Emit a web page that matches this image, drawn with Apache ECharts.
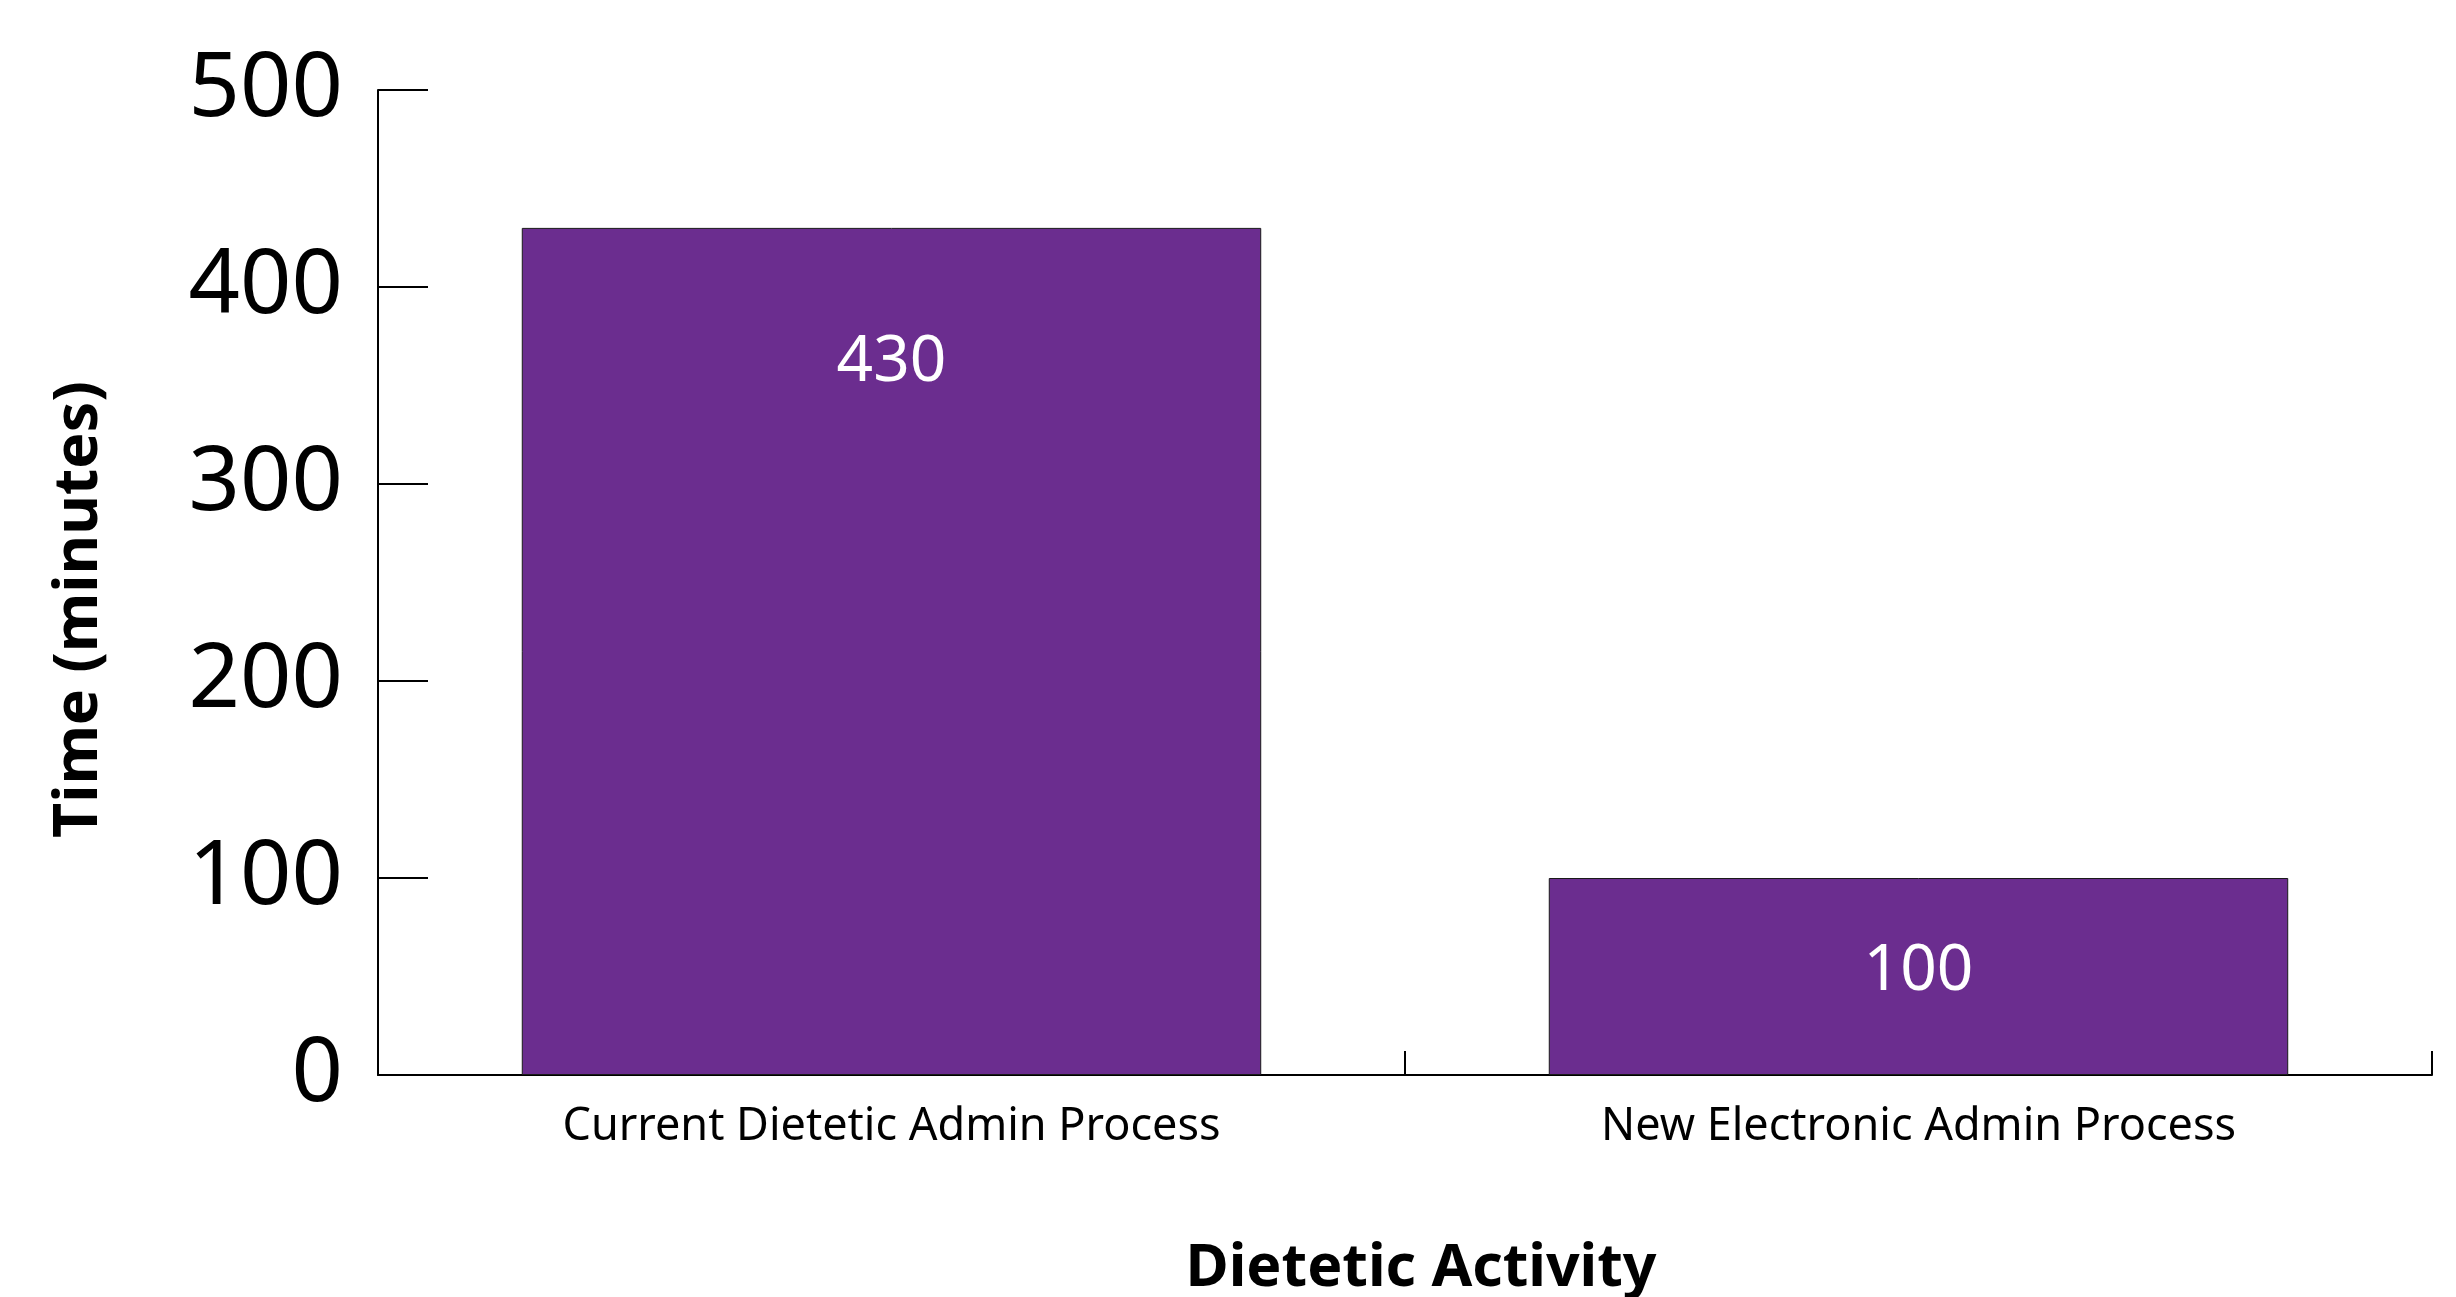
<!DOCTYPE html>
<html>
<head>
<meta charset="utf-8">
<script src="https://cdn.jsdelivr.net/npm/echarts@6/dist/echarts.min.js"></script>
<style>
  html, body { margin: 0; padding: 0; background: #ffffff; }
  #chart { width: 2456px; height: 1297px; }
</style>
</head>
<body>
<div id="chart"></div>
<script>
// Time spent per dietetic activity (minutes)
const categories = ['Current Dietetic Admin Process', 'New Electronic Admin Process'];
const minutes = [430, 100];
const yTicks = [0, 100, 200, 300, 400, 500];

// how far each value label sits below its bar top (px)
const labelDrop = [103, 62];

const FONT = '"Noto Sans", "Open Sans", sans-serif';
const BAR = '#6b2d8f';

const chart = echarts.init(document.getElementById('chart'), null, { renderer: 'canvas' });

chart.setOption({
  backgroundColor: '#ffffff',
  animation: false,
  grid: {
    left: 378, right: 24, top: 90, bottom: 222,
    containLabel: false, outerBoundsMode: 'none'
  },
  xAxis: {
    type: 'category',
    data: categories,
    boundaryGap: true,
    name: 'Dietetic Activity',
    nameLocation: 'middle',
    nameGap: 165,
    nameTextStyle: {
      fontFamily: FONT, fontSize: 59, fontWeight: 'bold', color: '#000',
      padding: [0, 0, 0, 32]
    },
    axisLine: { show: true, lineStyle: { color: '#000', width: 2 } },
    axisTick: { show: true, inside: true, length: 24, lineStyle: { color: '#000', width: 2 } },
    axisLabel: { fontFamily: FONT, fontSize: 45, color: '#000', margin: 30 },
    splitLine: { show: false }
  },
  yAxis: {
    type: 'value',
    min: yTicks[0],
    max: yTicks[yTicks.length - 1],
    interval: yTicks[1] - yTicks[0],
    name: 'Time (minutes)',
    nameLocation: 'middle',
    nameGap: 268,
    nameTextStyle: {
      fontFamily: FONT, fontSize: 61, fontWeight: 'bold', color: '#000',
      padding: [0, 54, 0, 0]
    },
    axisLine: { show: true, lineStyle: { color: '#000', width: 2 } },
    axisTick: { show: true, inside: true, length: 50, lineStyle: { color: '#000', width: 2 } },
    axisLabel: { fontFamily: FONT, fontSize: 90, color: '#000', margin: 35 },
    splitLine: { show: false }
  },
  series: [{
    type: 'bar',
    barWidth: '72%',
    data: minutes.map((v, i) => ({
      value: v,
      label: { distance: labelDrop[i] }
    })),
    itemStyle: { color: BAR, borderColor: '#1a1a1a', borderWidth: 1 },
    label: {
      show: true,
      position: 'insideTop',
      color: '#ffffff',
      fontFamily: FONT,
      fontSize: 64
    }
  }]
});
</script>
</body>
</html>
